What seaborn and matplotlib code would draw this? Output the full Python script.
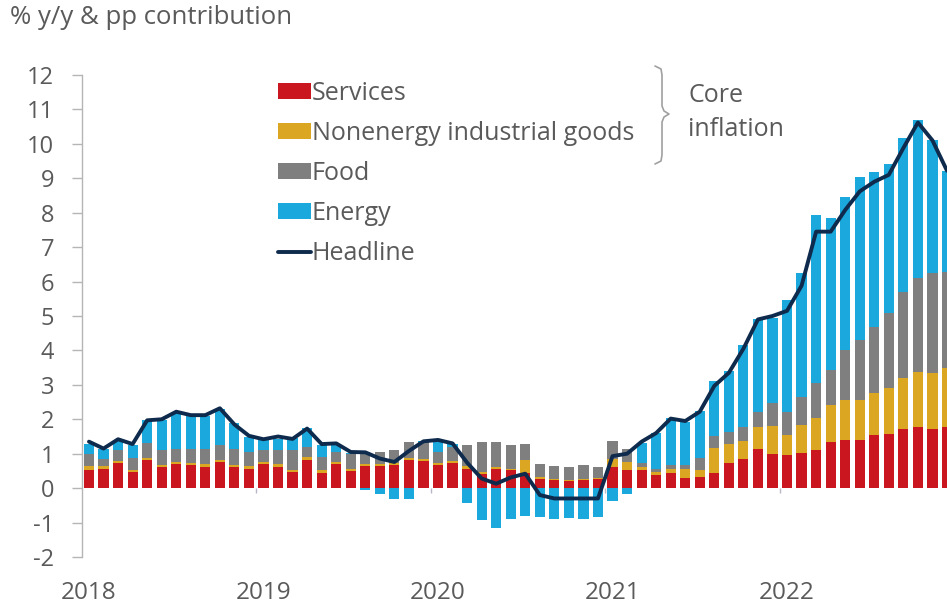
import numpy as np
import pandas as pd
import matplotlib
matplotlib.use("Agg")
import matplotlib.pyplot as plt
from matplotlib.patches import Patch
from matplotlib.lines import Line2D
import seaborn as sns

# Euro area HICP inflation, % y/y, and contributions in percentage points
months = pd.date_range("2018-01-01", "2022-12-01", freq="MS")

services = [
    0.53, 0.56, 0.74, 0.47, 0.82, 0.60, 0.70, 0.67, 0.62, 0.77, 0.60, 0.57,
    0.69, 0.62, 0.48, 0.83, 0.45, 0.70, 0.50, 0.64, 0.64, 0.67, 0.82, 0.79,
    0.67, 0.72, 0.57, 0.40, 0.57, 0.52, 0.43, 0.28, 0.23, 0.21, 0.25, 0.28,
    0.60, 0.52, 0.54, 0.38, 0.43, 0.30, 0.33, 0.45, 0.72, 0.86, 1.13, 0.99,
    0.96, 1.01, 1.10, 1.35, 1.41, 1.40, 1.54, 1.56, 1.73, 1.78, 1.73, 1.78,
]
nonenergy_goods = [
    0.10, 0.09, 0.06, 0.07, 0.07, 0.08, 0.07, 0.07, 0.07, 0.06, 0.07, 0.07,
    0.07, 0.07, 0.06, 0.08, 0.07, 0.07, 0.07, 0.06, 0.07, 0.07, 0.06, 0.06,
    0.07, 0.07, 0.08, 0.07, 0.05, 0.05, 0.39, 0.05, 0.03, 0.03, 0.02, 0.02,
    0.26, 0.25, 0.06, 0.10, 0.14, 0.27, 0.19, 0.73, 0.56, 0.52, 0.66, 0.82,
    0.58, 0.82, 0.93, 1.06, 1.15, 1.16, 1.21, 1.34, 1.46, 1.60, 1.60, 1.72,
]
food = [
    0.37, 0.21, 0.30, 0.35, 0.41, 0.42, 0.38, 0.41, 0.46, 0.42, 0.48, 0.42,
    0.34, 0.41, 0.56, 0.29, 0.39, 0.29, 0.43, 0.36, 0.35, 0.36, 0.47, 0.50,
    0.32, 0.40, 0.60, 0.88, 0.73, 0.68, 0.46, 0.37, 0.38, 0.38, 0.40, 0.30,
    0.52, 0.36, 0.12, 0.09, 0.10, 0.10, 0.35, 0.33, 0.36, 0.41, 0.43, 0.66,
    0.68, 0.83, 1.01, 1.02, 1.45, 1.74, 1.94, 2.20, 2.52, 2.72, 2.91, 2.79,
]
energy = [
    0.28, 0.29, 0.26, 0.36, 0.68, 0.88, 1.05, 0.95, 0.95, 1.05, 0.75, 0.44,
    0.30, 0.32, 0.35, 0.54, 0.34, 0.19, 0.03, -0.04, -0.17, -0.31, -0.31, 0.03,
    0.32, 0.08, -0.43, -0.93, -1.17, -0.91, -0.82, -0.83, -0.91, -0.88, -0.91, -0.83,
    -0.37, -0.16, 0.58, 1.04, 1.36, 1.26, 1.36, 1.59, 1.75, 2.38, 2.68, 2.47,
    3.25, 3.58, 4.90, 4.41, 4.46, 4.73, 4.48, 4.32, 4.46, 4.60, 3.88, 2.91,
]
headline = [
    1.35, 1.15, 1.42, 1.28, 1.97, 2.00, 2.22, 2.12, 2.12, 2.32, 1.85, 1.52,
    1.42, 1.50, 1.43, 1.73, 1.28, 1.30, 1.05, 1.04, 0.86, 0.76, 1.08, 1.36,
    1.40, 1.30, 0.74, 0.28, 0.13, 0.31, 0.42, -0.20, -0.30, -0.30, -0.30, -0.30,
    0.93, 1.00, 1.35, 1.60, 2.02, 1.95, 2.22, 2.97, 3.35, 4.05, 4.90, 5.00,
    5.15, 5.88, 7.45, 7.45, 8.08, 8.62, 8.90, 9.10, 9.88, 10.62, 10.10, 9.22,
]
year_labels = ["2018", "2019", "2020", "2021", "2022"]
series_labels = ["Services", "Nonenergy industrial goods", "Food", "Energy", "Headline"]

colors = {
    "Services": "#c9161f",
    "Nonenergy industrial goods": "#dba622",
    "Food": "#7f7f7f",
    "Energy": "#1ba8dc",
    "Headline": "#0e2a4c",
}
text_color = "#5a5a5a"

df = pd.DataFrame({
    "month": months,
    "pos": np.arange(len(months)),
    "services": services,
    "neig": nonenergy_goods,
    "food": food,
    "energy": energy,
    "headline": headline,
})
# Cumulative tops of the stacked contributions (energy on top when positive)
df["top_s"] = df["services"]
df["top_n"] = df["top_s"] + df["neig"]
df["top_f"] = df["top_n"] + df["food"]
df["top_e"] = df["top_f"] + df["energy"].clip(lower=0)
df["neg_e"] = df["energy"].clip(upper=0)

sns.set_theme(style="white")
plt.rcParams["font.family"] = ["Open Sans", "DejaVu Sans"]

W, H = 947, 608
fig = plt.figure(figsize=(W / 100, H / 100), dpi=100)
ax = fig.add_axes([82 / W, (H - 557) / H, 1 - 82 / W, (557 - 75) / H])

bar_kw = dict(x="pos", width=0.7, saturation=1, errorbar=None, linewidth=0, ax=ax)
sns.barplot(data=df, y="top_e", color=colors["Energy"], **bar_kw)
sns.barplot(data=df, y="top_f", color=colors["Food"], **bar_kw)
sns.barplot(data=df, y="top_n", color=colors["Nonenergy industrial goods"], **bar_kw)
sns.barplot(data=df, y="top_s", color=colors["Services"], **bar_kw)
sns.barplot(data=df, y="neg_e", color=colors["Energy"], **bar_kw)

sns.lineplot(data=df, x="pos", y="headline", color=colors["Headline"],
             linewidth=2.8, ax=ax, legend=False)

# Axes styling
ax.set_xlim(-0.48, len(df) - 1)
ax.set_ylim(-2, 12)
ax.set_yticks(range(-2, 13))
ax.set_yticklabels([str(v) for v in range(-2, 13)])
ax.set_xticks([12 * i for i in range(len(year_labels))])
ax.set_xticklabels(year_labels)
ax.set_xlabel("")
ax.set_ylabel("")
for side in ["top", "right", "bottom"]:
    ax.spines[side].set_visible(False)
ax.spines["left"].set_color("#b5b5b5")
ax.spines["left"].set_linewidth(1.0)
ax.tick_params(axis="y", which="major", direction="out", length=7, width=1.0,
               color="#b5b5b5", pad=13, labelsize=17, labelcolor=text_color, left=True)
ax.tick_params(axis="x", which="major", length=0, pad=17, labelsize=17.5, labelcolor=text_color)

# Small year-boundary marks on the zero line
ax.vlines([12 * i - 0.5 for i in range(1, len(year_labels))], -0.15, 0,
          color="#b8b8c8", linewidth=1.0, zorder=1)

# Legend
handles = [Patch(facecolor=colors[k], edgecolor="none") for k in series_labels[:4]]
handles.append(Line2D([0], [0], color=colors["Headline"], linewidth=2.8))
leg = ax.legend(handles, series_labels, loc="upper left",
                bbox_to_anchor=(278 / W, 1 - 81 / H), bbox_transform=fig.transFigure,
                frameon=False, fontsize=18, handlelength=1.3, handleheight=0.6,
                handletextpad=0.05, labelspacing=0.6, borderpad=0, borderaxespad=0)
for t in leg.get_texts():
    t.set_color(text_color)

# Brace grouping the core inflation components
def px(x, y):
    return x / W, 1 - y / H

brace = [(655, 66), (661, 69), (662, 75), (662, 106), (664, 111), (669, 114),
         (664, 117), (662, 122), (662, 155), (661, 161), (655, 164)]
bx, by = zip(*[px(*p) for p in brace])
fig.add_artist(Line2D(bx, by, color="#a0a0a0", linewidth=1.2, transform=fig.transFigure))
fig.text(688 / W, 1 - 96 / H, "Core", fontsize=18, color=text_color, va="center", ha="left")
fig.text(688 / W, 1 - 130 / H, "inflation", fontsize=18, color=text_color, va="center", ha="left")

fig.text(10 / W, 1 - 18 / H, "% y/y & pp contribution", fontsize=18.5, color=text_color,
         va="center", ha="left")

fig.savefig("out.png", dpi=100)
